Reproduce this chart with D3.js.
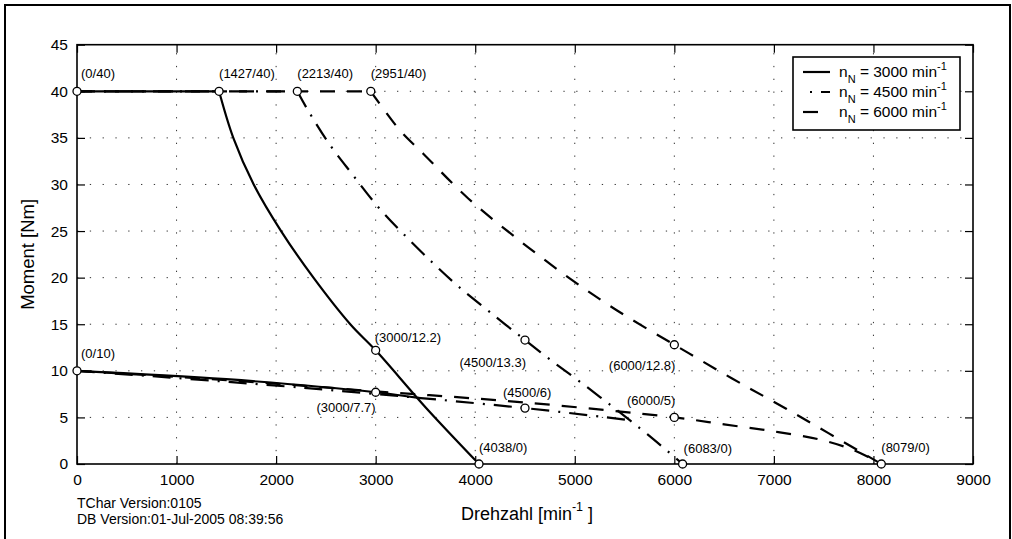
<!DOCTYPE html>
<html><head><meta charset="utf-8">
<script src="https://cdn.jsdelivr.net/npm/d3@7"></script>
<style>
body{margin:0;background:#fff;}
text{font-family:"Liberation Sans",Arial,Helvetica,sans-serif;fill:#000;}
</style></head><body>
<script>
// ---- data ----
const xTicks = [0,1000,2000,3000,4000,5000,6000,7000,8000,9000];
const yTicks = [0,5,10,15,20,25,30,35,40,45];

const n3000FlatX = [0,1427], n3000FlatY = [40,40];
const n3000UpperX = [1427,1570,1775,2050,2375,2745,3000,3500,4038];
const n3000UpperY = [40,35,30,25,20,15,12.2,6.1,0];
const n3000LowerX = [0,1500,3000,3430];
const n3000LowerY = [10,9.1,7.7,7.1];

const n4500FlatX = [0,2213], n4500FlatY = [40,40];
const n4500UpperX = [2213,2307,2524,2765,3016,3287,3572,3837,4148,4500,4778,5093,5421,5728,6083];
const n4500UpperY = [40,38.2,34.5,31.1,27.7,24.6,21.6,19.0,16.3,13.3,11.0,8.5,5.8,3.2,0];
const n4500LowerX = [0,2250,4500,5550];
const n4500LowerY = [10,8.2,6,4.7];

const n6000FlatX = [0,2951], n6000FlatY = [40,40];
const n6000UpperX = [2951,3244,3478,3930,4443,4952,5421,6000,6576,7128,8079];
const n6000UpperY = [40,35.8,33.3,28.5,24.0,19.9,16.5,12.8,9.2,5.9,0];
const n6000LowerX = [0,1500,3000,4500,6000,6500,7000,7450,7800,8079];
const n6000LowerY = [10,9.0,7.8,6.6,5,4.25,3.5,2.65,1.5,0];

const markX = [0,1427,2213,2951,0,3000,3000,4500,4500,6000,6000,4038,6083,8079];
const markY = [40,40,40,40,10,12.2,7.7,13.3,6,12.8,5,0,0,0];

const legendLabels = ["3000","4500","6000"];
const footer = ["TChar Version:0105","DB Version:01-Jul-2005 08:39:56"];

// ---- layout ----
const W=1012,H=539;
const svg=d3.select("body").append("svg").attr("width",W).attr("height",H);
svg.append("rect").attr("width",W).attr("height",H).attr("fill","#fff");
svg.append("rect").attr("x",5).attr("y",5).attr("width",1005).attr("height",560)
  .attr("fill","none").attr("stroke","#000").attr("stroke-width",2);

const x=d3.scaleLinear().domain([0,9000]).range([77,973]);
const y=d3.scaleLinear().domain([0,45]).range([464,44.7]);
const L=x(0),R=x(9000),T=y(45),B=y(0);

// grid
const g=svg.append("g");
g.selectAll("line.vg").data(xTicks.slice(1,-1)).enter().append("line")
  .attr("x1",d=>x(d)).attr("x2",d=>x(d)).attr("y1",B).attr("y2",T)
  .attr("stroke","#333").attr("stroke-width",1).attr("stroke-dasharray","1.3,11.5");
g.selectAll("line.hg").data(yTicks.slice(1,-1)).enter().append("line")
  .attr("x1",L).attr("x2",R).attr("y1",d=>y(d)).attr("y2",d=>y(d))
  .attr("stroke","#333").attr("stroke-width",1).attr("stroke-dasharray","1.3,11.5");

// axes
const fs=15.5;
function styleAxis(sel){sel.select(".domain").remove();sel.selectAll(".tick line").attr("stroke","#000").attr("stroke-width",1.2);sel.selectAll(".tick text").attr("font-size",fs).attr("font-family","Liberation Sans, Arial, sans-serif").attr("fill","#000");}
svg.append("g").attr("transform",`translate(0,${B})`)
  .call(d3.axisBottom(x).tickValues(xTicks).tickSize(-8).tickPadding(10).tickFormat(d3.format("d"))).call(styleAxis);
svg.append("g").attr("transform",`translate(0,${T})`)
  .call(d3.axisTop(x).tickValues(xTicks).tickSize(-8).tickFormat("")).call(styleAxis);
svg.append("g").attr("transform",`translate(${L},0)`)
  .call(d3.axisLeft(y).tickValues(yTicks).tickSize(-8).tickPadding(9).tickFormat(d3.format("d"))).call(styleAxis);
svg.append("g").attr("transform",`translate(${R},0)`)
  .call(d3.axisRight(y).tickValues(yTicks).tickSize(-8).tickFormat("")).call(styleAxis);
svg.append("rect").attr("x",L).attr("y",T).attr("width",R-L).attr("height",B-T)
  .attr("fill","none").attr("stroke","#000").attr("stroke-width",1.6);

// lines
const lineC=d3.line().x(d=>x(d[0])).y(d=>y(d[1])).curve(d3.curveCatmullRom.alpha(0.5));
const lineL=d3.line().x(d=>x(d[0])).y(d=>y(d[1]));
const DASH="15,12", DASHDOT="18,9,2,9";
function draw(xs,ys,dash,curve){
  svg.append("path").datum(d3.zip(xs,ys)).attr("d",curve?lineC:lineL)
    .attr("fill","none").attr("stroke","#000").attr("stroke-width",2.2)
    .attr("stroke-dasharray",dash||null);
}
draw(n6000FlatX,n6000FlatY,DASH,false);
draw(n6000UpperX,n6000UpperY,DASH,true);
draw(n6000LowerX,n6000LowerY,DASH,true);
draw(n4500FlatX,n4500FlatY,DASHDOT,false);
draw(n4500UpperX,n4500UpperY,DASHDOT,true);
draw(n4500LowerX,n4500LowerY,DASHDOT,true);
draw(n3000FlatX,n3000FlatY,null,false);
draw(n3000UpperX,n3000UpperY,null,true);
draw(n3000LowerX,n3000LowerY,null,true);

// markers
const marks=d3.zip(markX,markY);
svg.selectAll("circle.m").data(marks).enter().append("circle")
  .attr("cx",d=>x(d[0])).attr("cy",d=>y(d[1])).attr("r",4)
  .attr("fill","#fff").attr("stroke","#000").attr("stroke-width",1.3);

// point labels: [anchor, dx, dy]
const labelPos=[["start",4,-13],["start",0,-13],["start",0,-13],["start",0,-13],["start",4,-13],
  ["start",-1,-8],["end",0,20],["end",1,27],["start",-22,-11],["end",1,25],["end",1,-12],
  ["start",0,-12],["start",1,-11],["start",0,-12]];
svg.selectAll("text.pl").data(marks).enter().append("text")
  .attr("x",(d,i)=>x(d[0])+labelPos[i][1]).attr("y",(d,i)=>y(d[1])+labelPos[i][2])
  .attr("text-anchor",(d,i)=>labelPos[i][0]).attr("font-size",13)
  .text(d=>`(${d[0]}/${d[1]})`);

// legend
const lg=svg.append("g");
lg.append("rect").attr("x",793).attr("y",57).attr("width",167).attr("height",73)
  .attr("fill","#fff").attr("stroke","#000").attr("stroke-width",1.6);
const dashes=[null,DASHDOT,DASH];
const dashOff=[0,20,0];
legendLabels.forEach((lab,i)=>{
  const by=77+i*20;
  lg.append("line").attr("x1",803).attr("x2",830).attr("y1",by-5).attr("y2",by-5)
    .attr("stroke","#000").attr("stroke-width",2.2).attr("stroke-dasharray",dashes[i])
    .attr("stroke-dashoffset",dashOff[i]);
  const t=lg.append("text").attr("x",839).attr("y",by).attr("font-size",15.5);
  t.append("tspan").text("n");
  t.append("tspan").attr("font-size",11).attr("dy",6).text("N");
  t.append("tspan").attr("dy",-6).text(` = ${lab} min`);
  t.append("tspan").attr("font-size",11).attr("dy",-7).text("-1");
});

// axis titles
svg.append("text").attr("transform",`translate(34,${(T+B)/2}) rotate(-90)`)
  .attr("text-anchor","middle").attr("font-size",18.5).text("Moment [Nm]");
const xl=svg.append("text").attr("x",527).attr("y",520).attr("text-anchor","middle").attr("font-size",18);
xl.append("tspan").text("Drehzahl [min");
xl.append("tspan").attr("font-size",12.5).attr("dy",-9).text("-1");
xl.append("tspan").attr("dy",9).text(" ]");

// footer
footer.forEach((f,i)=>svg.append("text").attr("x",77).attr("y",508+i*16).attr("font-size",14).text(f));
</script></body></html>
